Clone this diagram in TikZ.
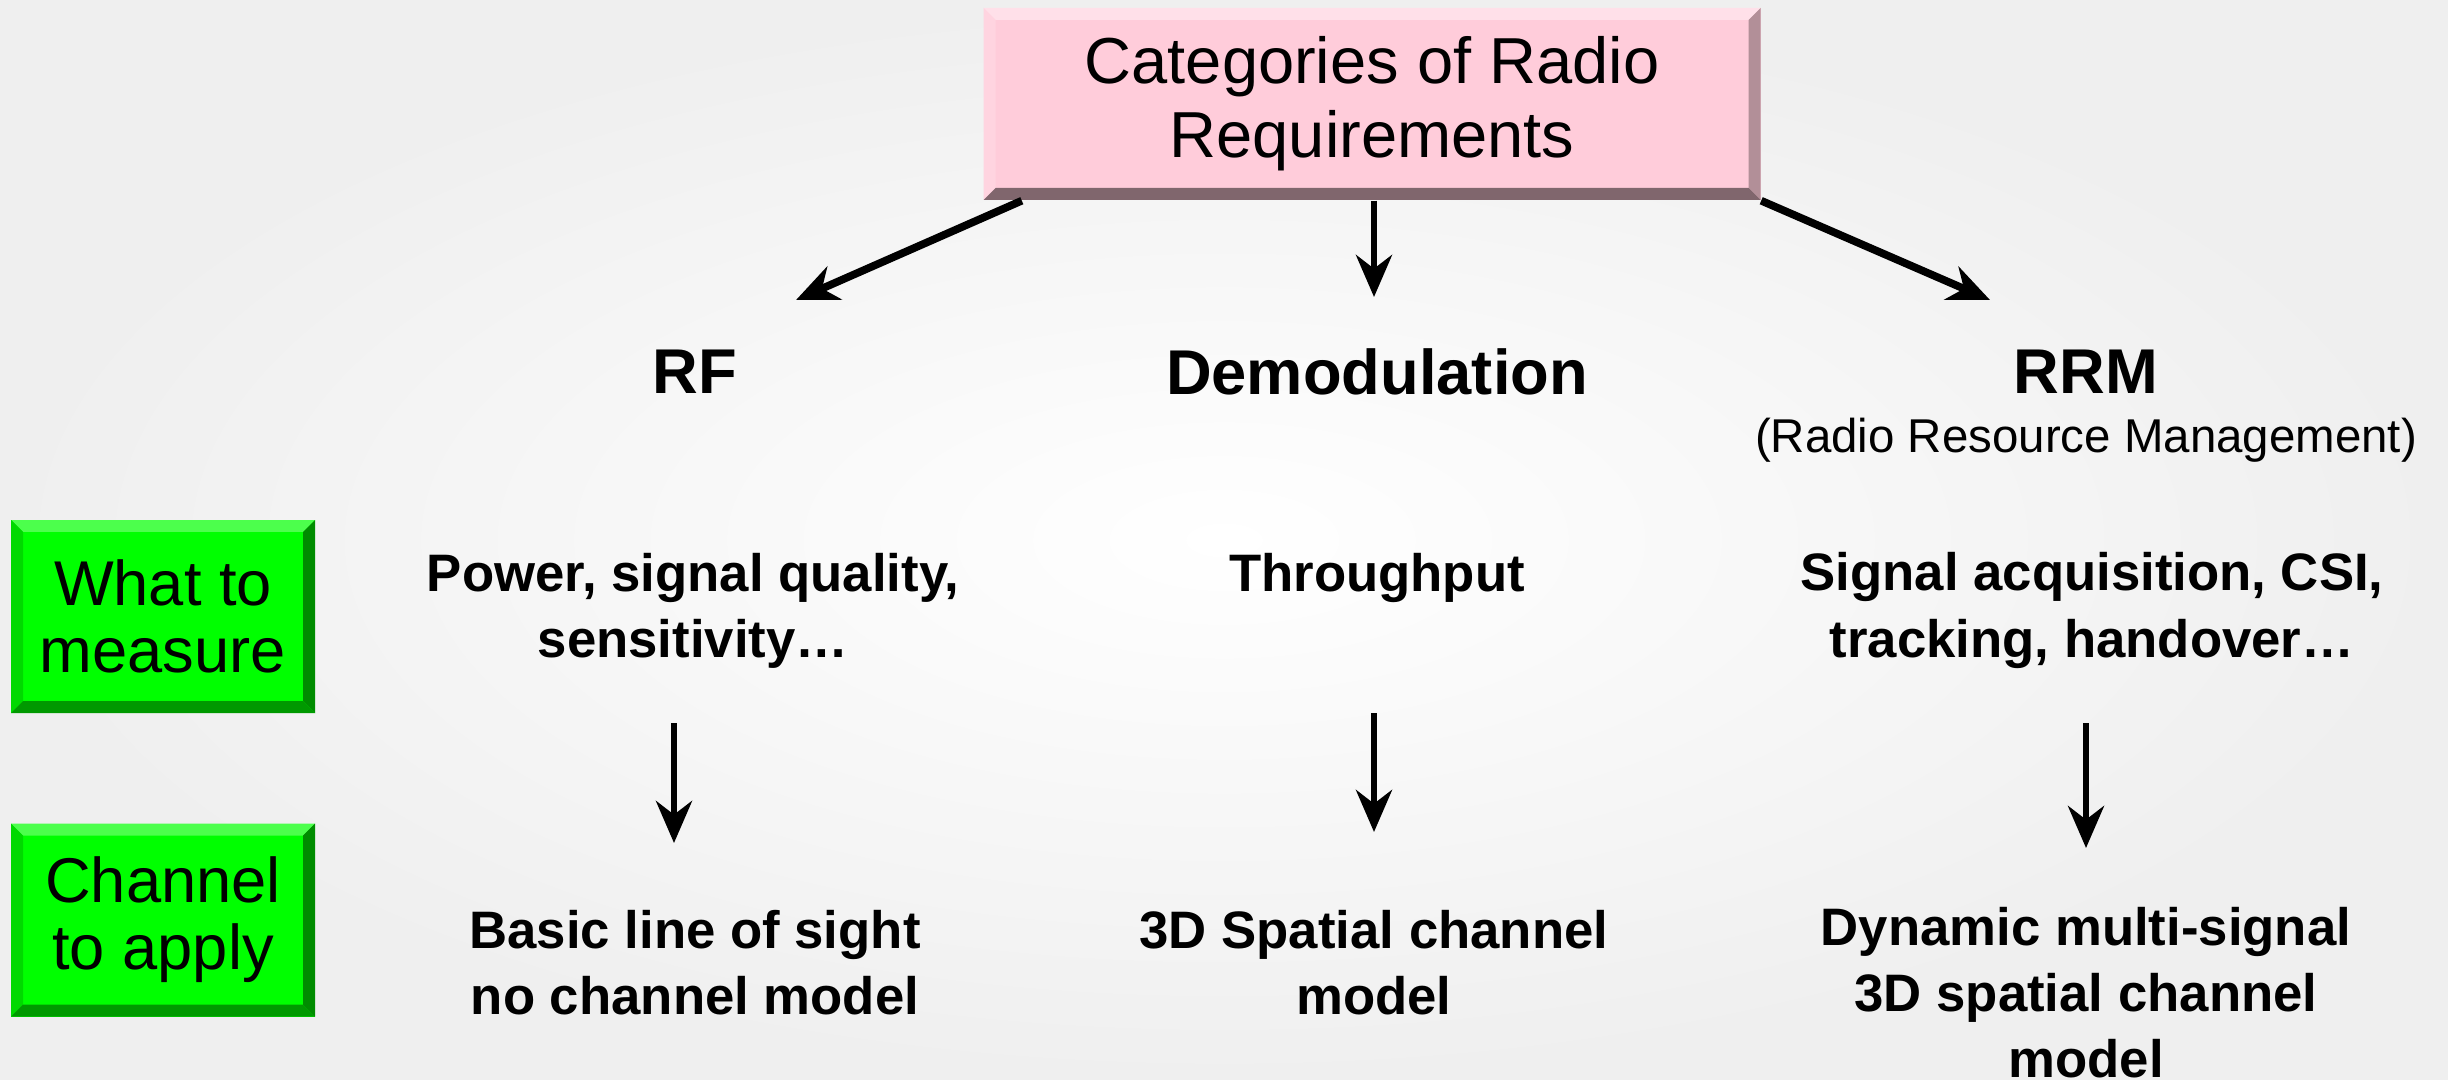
\documentclass[tikz,border=0pt]{standalone}
\usepackage{fontspec}
\setmainfont{Liberation Sans}
\usetikzlibrary{arrows.meta}
\definecolor{paper}{HTML}{EFEFEF}
\definecolor{blush}{HTML}{FFCCDA}
\definecolor{lime}{HTML}{00FF00}
\def\bev{0.12}

\tikzset{
  bevel/.style n args={4}{path picture={
    \fill[#1] (path picture bounding box.north west) -- (path picture bounding box.north east)
      -- ([shift={(-\bev,-\bev)}]path picture bounding box.north east)
      -- ([shift={(\bev,-\bev)}]path picture bounding box.north west) -- cycle;
    \fill[#2] (path picture bounding box.north west) -- (path picture bounding box.south west)
      -- ([shift={(\bev,\bev)}]path picture bounding box.south west)
      -- ([shift={(\bev,-\bev)}]path picture bounding box.north west) -- cycle;
    \fill[#3] (path picture bounding box.north east) -- (path picture bounding box.south east)
      -- ([shift={(-\bev,\bev)}]path picture bounding box.south east)
      -- ([shift={(-\bev,-\bev)}]path picture bounding box.north east) -- cycle;
    \fill[#4] (path picture bounding box.south west) -- (path picture bounding box.south east)
      -- ([shift={(-\bev,\bev)}]path picture bounding box.south east)
      -- ([shift={(\bev,\bev)}]path picture bounding box.south west) -- cycle;
  }},
  topbox/.style={fill=blush,minimum width=7.77cm,minimum height=1.92cm,
    inner sep=0pt,align=center,font=\fontsize{18.5}{21}\selectfont,
    bevel={blush!60!white}{blush!85!white}{blush!70!black}{blush!50!black}},
  rowbox/.style={fill=lime,minimum width=3.04cm,minimum height=1.93cm,
    inner sep=0pt,align=center,font=\fontsize{18}{19}\selectfont,
    bevel={lime!70!white}{lime!85!black}{lime!55!black}{lime!60!black}},
  head/.style={font=\bfseries\fontsize{18}{21}\selectfont},
  cell/.style={align=center,font=\bfseries\fontsize{15}{18.8}\selectfont},
  link/.style={-{Stealth[length=0.42cm,width=0.36cm]},line width=1.8pt}
}

\begin{document}
\begin{tikzpicture}
  \useasboundingbox (0,0) rectangle (24.48,-10.80);
  \shade[inner color=white,outer color=paper] (0,0) rectangle (24.48,-10.80);

  % Top category box and the three requirement families.
  \node[topbox] (cat) at (13.72,-1.04)
    {Categories of Radio\\Requirements};
  \node[head] (rf) at (6.95,-3.72) {RF};
  \node[head] (demod) at (13.77,-3.72) {Demodulation};
  \node[head] (rrm) at (20.86,-3.72) {RRM};
  \node[font=\fontsize{13.5}{16}\selectfont] (rrmfull) at (20.86,-4.40)
    {(Radio Resource Management)};

  \coordinate (rfTip) at (7.96,-3.00);
  \coordinate (demodTip) at (13.74,-2.97);
  \coordinate (rrmTip) at (19.90,-3.00);
  \draw[link,line width=2.2pt] ([xshift=0.39cm]cat.south west) -- (rfTip);
  \draw[link] (cat.south -| demodTip) -- (demodTip);
  \draw[link,line width=2.2pt] (cat.south east) -- (rrmTip);

  % Row labels on the left.
  \node[rowbox] (what) at (1.63,-6.165) {What to\\measure};
  \node[rowbox] (chan) at (1.63,-9.20) {Channel\\to apply};

  % What to measure.
  \node[cell] (rfWhat) at (6.93,-6.105)
    {Power, signal quality,\\sensitivity\ldots};
  \node[cell] (demodWhat) at (13.77,-5.78) {Throughput};
  \node[cell] (rrmWhat) at (20.92,-6.105)
    {Signal acquisition, CSI,\\tracking, handover\ldots};

  % Channel to apply.
  \node[cell] (rfChan) at (6.95,-9.63)
    {Basic line of sight\\no channel model};
  \node[cell] (demodChan) at (13.74,-9.63)
    {3D Spatial channel\\model};
  \node[cell] (rrmChan) at (20.86,-9.93)
    {Dynamic multi-signal\\3D spatial channel\\model};

  \coordinate (rfA) at (6.74,-7.23);
  \coordinate (rfB) at (6.74,-8.43);
  \coordinate (demodA) at (13.74,-7.13);
  \coordinate (demodB) at (13.74,-8.32);
  \coordinate (rrmA) at (20.86,-7.23);
  \coordinate (rrmB) at (20.86,-8.48);
  \draw[link] (rfA) -- (rfB);
  \draw[link] (demodA) -- (demodB);
  \draw[link] (rrmA) -- (rrmB);
\end{tikzpicture}
\end{document}
